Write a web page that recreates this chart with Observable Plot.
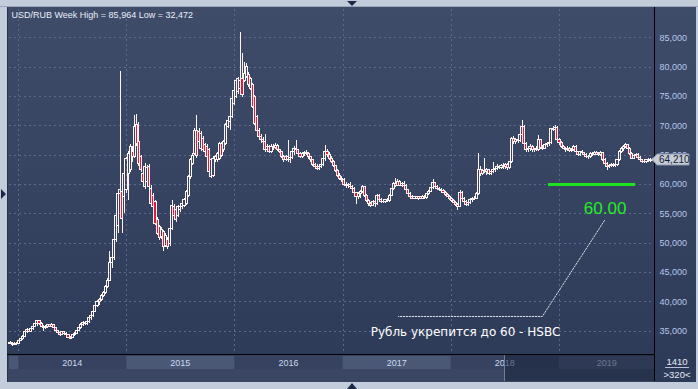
<!DOCTYPE html>
<html><head><meta charset="utf-8">
<script src="https://cdn.jsdelivr.net/npm/d3@7"></script>
<script src="https://cdn.jsdelivr.net/npm/@observablehq/plot@0.6"></script>
<style>
html,body{margin:0;padding:0;background:#c2ccdb;}
#chart{width:698px;height:389px;}
svg{display:block;}
</style></head><body><div id="chart"></div>
<script>
// ---- DATA (weekly USD/RUB candles: [open, high, low, close]) ----
const firstWeek = "2013-12-02";
const w2013 = [[33.0,33.2,32.8,32.9],[32.9,33.1,32.472,32.7],[32.7,33.0,32.6,32.9],[32.9,33.0,32.6,32.75],[32.75,33.5,32.7,33.3]];
const w2014 = [[33.3,33.8,33.2,33.6],[33.6,34.2,33.5,34.0],[34.0,35.2,33.9,34.8],[34.8,35.5,34.6,35.2],[35.2,35.4,34.8,34.9],
[34.9,35.5,34.8,35.3],[35.3,36.0,35.2,35.8],[35.8,36.5,35.6,36.3],[36.3,36.9,35.8,36.7],[36.7,36.8,36.0,36.2],
[36.2,36.4,35.6,35.8],[35.8,36.0,34.9,35.5],[35.5,36.0,35.3,35.8],[35.8,36.1,35.4,36.0],[36.0,36.2,35.6,35.8],
[35.8,36.3,35.7,36.1],[36.1,36.2,35.3,35.5],[35.5,35.6,34.9,35.0],[35.0,35.2,34.5,34.7],[34.7,34.9,34.1,34.3],
[34.3,35.0,34.2,34.8],[34.8,35.0,34.4,34.6],[34.6,34.8,34.2,34.3],[34.3,34.5,33.8,33.9],[33.9,34.1,33.6,33.75],
[33.8,34.5,33.7,34.3],[34.3,34.7,34.1,34.5],[34.5,35.2,34.4,35.0],[35.0,35.6,34.9,35.5],[35.5,36.3,35.3,36.0],
[36.0,36.7,35.8,36.4],[36.4,36.6,35.9,36.2],[36.2,36.7,36.0,36.5],[36.5,37.4,36.3,37.2],[37.2,37.8,36.9,37.6],
[37.6,38.5,37.4,38.3],[38.3,39.6,38.2,39.3],[39.3,40.2,39.0,39.9],[39.9,40.6,39.4,40.3],[40.3,41.2,40.1,41.0],
[41.0,41.8,40.8,41.5],[41.5,42.8,41.2,42.5],[42.5,44.0,42.3,43.6],[43.6,48.6,43.4,46.6],[46.6,48.5,45.6,47.4],
[47.4,51.0,47.1,50.5],[50.5,55.3,50.2,54.7],[53.0,58.6,51.7,58.4],[58.4,79.3,57.5,59.0],[58.7,59.2,51.7,54.2],
[57.8,62.0,55.0,61.8],[59.0,64.6,58.5,64.4]];
const w2015 = [[61.8,65.6,57.3,65.2],[62.4,66.8,62.0,66.4],[65.5,66.5,63.8,64.7],[64.7,71.8,64.5,69.8],[70.1,72.0,66.5,66.9],
[67.2,70.6,63.0,63.5],[64.7,65.0,62.0,62.4],[61.8,62.2,60.0,60.4],[59.5,63.5,59.2,63.0],[60.5,63.3,59.5,62.8],
[63.0,63.4,59.2,59.5],[59.3,59.8,56.5,56.7],[58.1,58.4,55.8,56.1],[57.0,57.3,53.0,53.3],[53.9,54.3,51.3,51.6],
[52.7,53.0,50.5,50.8],[51.0,52.6,50.6,52.2],[51.9,52.2,48.5,49.3],[49.6,51.6,49.3,51.3],[50.5,50.9,49.0,49.3],
[49.9,52.8,49.5,52.5],[52.5,57.3,52.2,56.4],[56.1,56.6,54.3,54.7],[55.6,55.9,53.6,53.9],[54.7,56.4,54.4,56.1],
[55.6,56.5,55.2,56.1],[56.1,57.0,55.7,56.7],[56.4,57.6,56.1,57.3],[56.7,59.0,56.4,58.7],[58.1,61.5,57.8,61.2],
[61.2,64.4,60.9,64.1],[63.5,65.3,63.2,64.9],[65.2,69.5,64.9,69.2],[69.2,71.8,64.5,64.9],[68.9,69.5,66.8,67.2],
[66.1,69.0,65.7,68.6],[67.8,68.2,65.5,65.8],[66.7,67.0,65.2,65.5],[66.4,66.8,64.4,64.7],[65.8,66.1,61.8,62.1],
[61.2,64.5,61.0,64.1],[61.5,64.7,61.2,64.4],[64.1,65.0,63.8,64.7],[64.1,65.5,63.8,65.2],[64.4,67.2,64.1,66.9],
[66.9,67.2,64.6,64.9],[65.8,67.5,65.5,67.2],[66.9,70.4,66.6,70.1],[69.8,71.2,69.5,70.9],[70.6,71.8,69.2,71.5],
[71.5,74.9,71.2,74.6],[73.8,76.3,73.5,76.0]];
const w2016 = [[74.9,78.0,74.6,77.7],[75.7,78.3,75.4,78.0],[76.3,85.964,75.4,77.7],[78.0,82.3,74.9,75.2],[77.7,80.8,77.4,78.9],
[78.3,80.6,78.0,80.0],[78.6,79.0,76.6,76.9],[76.3,78.3,76.0,78.0],[76.9,77.2,72.9,73.2],[74.9,75.2,70.0,70.3],
[71.5,71.8,68.9,69.2],[69.2,69.5,67.8,68.1],[68.1,68.6,67.0,67.6],[67.6,68.0,66.8,67.2],[67.2,68.6,65.5,65.8],
[65.8,66.8,65.4,66.4],[66.4,66.6,65.2,65.5],[65.5,66.8,65.3,66.4],[66.4,66.9,65.8,66.2],[66.2,67.0,65.9,66.6],
[66.6,66.8,65.6,65.9],[65.9,66.0,65.2,65.5],[65.5,65.7,64.5,64.7],[64.7,64.9,63.8,64.1],[64.1,65.0,63.9,64.7],
[64.7,67.5,63.8,64.1],[64.1,64.8,63.5,64.5],[64.5,65.8,64.2,65.5],[65.5,66.4,65.0,66.1],[66.1,67.5,65.5,65.8],
[65.8,66.0,64.9,65.2],[65.2,65.4,64.4,64.7],[64.7,65.5,64.5,65.2],[65.2,65.6,64.8,65.4],[65.4,65.8,64.9,65.2],
[65.2,65.4,64.3,64.6],[64.6,64.8,63.8,64.1],[64.1,64.3,63.0,63.3],[63.3,63.6,62.6,63.0],[63.0,63.4,62.4,62.7],
[62.7,63.3,62.4,63.0],[63.0,63.6,62.8,63.3],[63.3,64.6,63.1,64.3],[64.3,66.6,64.0,65.6],[65.6,66.0,64.6,65.0],
[65.0,65.4,64.1,64.4],[64.4,64.7,63.6,63.9],[63.9,64.1,62.9,63.2],[63.2,63.3,62.0,62.3],[62.3,62.5,61.2,61.4],
[61.4,61.8,60.7,61.0],[61.0,61.3,60.4,60.7]];
const w2017 = [[60.7,61.0,59.6,59.9],[59.9,60.4,59.3,59.7],[59.7,60.2,59.3,59.9],[59.9,60.3,59.4,59.6],[59.6,59.9,59.0,59.3],
[59.3,59.5,58.2,58.5],[58.5,58.7,56.6,57.8],[57.8,58.6,57.4,58.3],[58.3,59.0,57.6,58.7],[58.7,59.8,58.4,59.5],
[59.5,59.7,57.8,58.1],[58.1,58.3,56.9,57.2],[57.2,57.4,56.3,56.6],[56.6,57.0,56.1,56.4],[56.4,57.2,56.2,57.0],
[57.0,57.3,56.0,56.6],[56.6,58.3,56.4,58.1],[58.1,58.3,57.1,57.3],[57.3,57.6,56.8,57.1],[57.1,57.3,56.7,57.0],
[57.0,57.5,56.8,57.3],[57.3,57.6,56.9,57.2],[57.2,58.3,57.0,58.1],[58.1,59.4,57.9,59.2],[59.2,60.3,59.0,60.1],
[60.1,61.0,59.5,59.8],[59.8,60.9,59.6,60.4],[60.4,60.6,59.6,59.8],[59.8,60.3,59.5,60.0],[60.0,60.5,59.6,59.8],
[59.8,60.0,58.8,59.0],[59.0,59.2,58.2,58.4],[58.4,58.6,57.6,57.8],[57.8,58.1,57.4,57.6],[57.6,58.0,57.4,57.8],
[57.8,58.0,57.4,57.6],[57.6,58.0,57.3,57.8],[57.8,58.0,57.4,57.6],[57.6,58.1,57.4,57.9],[57.9,58.2,57.5,57.7],
[57.7,58.5,57.5,58.3],[58.3,59.0,58.1,58.8],[58.8,59.6,58.6,59.4],[59.4,60.8,59.2,60.2],[60.2,60.4,59.3,59.6],
[59.6,59.9,59.0,59.3],[59.3,59.5,58.8,59.0],[59.0,59.3,58.6,58.9],[58.9,59.1,58.4,58.6],[58.6,58.8,58.0,58.2],
[58.2,58.4,57.7,57.9],[57.9,58.1,57.3,57.5]];
const w2018 = [[57.5,57.7,56.9,57.2],[57.2,57.5,56.7,56.9],[56.9,57.1,56.2,56.5],[56.5,56.8,55.6,56.2],[56.2,59.0,56.0,58.6],
[58.6,58.8,57.4,57.6],[57.6,57.8,56.8,57.0],[57.0,57.3,56.2,56.5],[56.5,57.0,56.3,56.8],[56.8,57.5,56.6,57.3],
[57.3,57.7,57.0,57.5],[57.5,57.9,57.2,57.6],[57.6,58.6,57.4,58.4],[58.4,65.2,58.2,62.4],[62.4,63.0,61.4,61.8],
[61.8,62.6,61.5,62.3],[62.3,64.4,61.8,62.1],[62.1,62.7,61.6,62.4],[62.4,62.6,61.5,61.8],[61.8,62.4,61.6,62.1],
[62.1,63.8,61.9,62.4],[62.4,62.9,62.1,62.6],[62.6,63.4,62.3,63.0],[63.0,63.3,62.5,62.8],[62.8,63.4,62.6,63.2],
[63.2,63.6,62.6,62.9],[62.9,63.5,62.6,63.3],[63.3,63.5,62.4,62.8],[62.8,64.0,62.6,63.8],[63.8,68.0,63.6,67.8],
[67.8,68.1,66.8,67.2],[67.2,67.8,66.9,67.5],[67.5,68.0,67.0,67.4],[67.4,69.2,67.1,68.4],[68.4,70.9,68.1,69.8],
[69.8,70.1,66.6,66.9],[66.9,67.2,65.5,65.8],[65.8,66.4,65.4,66.1],[66.1,66.8,65.7,66.4],[66.4,66.6,65.5,65.8],
[65.8,66.2,65.4,66.0],[66.0,66.5,65.6,65.9],[65.9,68.3,65.7,67.5],[67.5,67.7,66.0,66.3],[66.3,66.6,65.8,66.1],
[66.1,66.9,65.9,66.7],[66.7,67.2,66.3,66.9],[66.9,67.3,66.5,67.1],[67.1,69.6,66.9,69.5],[69.5,69.9,69.0,69.3],
[69.3,70.1,69.0,69.6],[69.6,69.8,67.3,67.5],[67.5,67.8,66.7,67.0]];
const w2019 = [[67.0,67.3,66.2,66.4],[66.4,66.7,65.9,66.1],[66.1,66.3,65.5,65.8],[65.8,66.4,65.6,66.1],[66.1,66.3,65.5,65.7],
[65.7,66.1,65.5,65.9],[65.9,66.7,65.7,66.4],[66.4,66.6,65.3,65.5],[65.5,65.7,64.8,65.0],[65.0,65.7,64.8,65.5],
[65.5,65.8,65.1,65.3],[65.3,65.5,64.8,65.0],[65.0,65.2,64.5,64.7],[64.7,65.0,64.3,64.6],[64.6,65.4,64.4,65.2],
[65.2,65.5,64.8,65.0],[65.0,65.6,64.9,65.4],[65.4,65.7,64.9,65.1],[65.1,65.4,64.7,65.0],[65.0,65.6,64.8,65.3],
[65.3,65.5,64.0,64.2],[64.2,64.4,63.3,63.5],[63.5,63.8,62.4,63.0],[63.0,63.4,62.8,63.1],[63.1,63.5,62.9,63.3],
[63.3,63.6,62.9,63.1],[63.1,63.5,62.9,63.3],[63.3,64.3,63.1,64.1],[64.1,65.8,63.9,65.5],[65.5,66.3,65.2,66.0],
[66.0,66.7,65.7,66.4],[66.4,67.0,66.1,66.7],[66.7,66.9,65.9,66.1],[66.1,66.3,65.0,65.2],[65.2,65.5,64.2,64.4],
[64.4,65.0,64.2,64.8],[64.8,65.2,64.6,65.0],[65.0,65.2,64.3,64.5],[64.5,64.7,63.9,64.1],[64.1,64.3,63.6,63.9],
[63.9,64.1,63.6,63.8],[63.8,64.3,63.6,64.1],[64.1,64.4,63.8,64.0],[64.0,64.4,63.8,64.2],[64.2,64.4,64.0,64.21]];

const yTicks = [35, 40, 45, 50, 55, 60, 65, 70, 75, 80, 85];
const years = [2013, 2014, 2015, 2016, 2017, 2018, 2019];
const shadedYears = [2013, 2015, 2017, 2019];
const titleParts = {symbol: "USD/RUB", period: "Week", high: 85.964, low: 32.472};
const lastPrice = 64.21;
const counters = ["1410", ">320<"];
const thumbStart = "2018-07-05";
const target = [{value: 60, from: "2018-11-26", to: "2019-09-16"}];
const targetLabel = [{text: "60.00", at: "2019-06-05", value: 55.9}];
const calloutPath = [["2019-06-03", 53.86], ["2018-11-05", 37.51], ["2017-07-07", 37.51]];
const calloutText = [{text: "Рубль укрепится до 60 - HSBC", at: "2017-04-04", value: 34.78}];

// ---- build ----
const fmt = v => d3.format(",.3f")(v).replace(".", ",");
const candles = [...w2013, ...w2014, ...w2015, ...w2016, ...w2017, ...w2018, ...w2019].map((d, i) => {
  const [o, h, l, c] = d;
  const date = d3.utcDay.offset(new Date(firstWeek), 7 * i + 2);
  return {date, o, h, l, c, top: Math.max(o, c), bot: Math.min(o, c), down: c < o,
    x1: d3.utcHour.offset(date, -84), x2: d3.utcHour.offset(date, 84)};
});
const yearStart = y => new Date(Date.UTC(y, 0, 1));
const wickColor = "#fff4ef";
const crisp = {shapeRendering: "crispEdges"};

const plot = Plot.plot({
  width: 698, height: 389,
  marginLeft: 9, marginRight: 43, marginTop: 9, marginBottom: 35,
  style: {background: "transparent", fontFamily: "'Liberation Sans', Arial, sans-serif", fontSize: "9px"},
  x: {type: "utc", domain: [new Date("2013-11-30T14:24:00Z"), new Date("2019-11-22T10:00:00Z")], axis: null},
  y: {domain: [31.03, 89.82], axis: null},
  marks: [
    Plot.gridY(yTicks, {stroke: "#5a6a8d", strokeOpacity: 1, strokeDasharray: "2,3", ...crisp}),
    Plot.gridX(years.slice(1).map(yearStart), {stroke: "#5a6a8d", strokeOpacity: 1, strokeDasharray: "2,3", ...crisp}),
    Plot.axisY(yTicks, {anchor: "right", tickSize: 0, tickPadding: 4, tickFormat: fmt, fill: "#b5c8ea", fontSize: 9}),
    Plot.ruleX(candles, {x: "date", y1: "top", y2: "h", stroke: wickColor, ...crisp}),
    Plot.ruleX(candles, {x: "date", y1: "l", y2: "bot", stroke: wickColor, ...crisp}),
    Plot.rect(candles.filter(d => !d.down), {x1: "x1", x2: "x2", y1: "bot", y2: "top", fill: "none", stroke: wickColor, ...crisp}),
    Plot.rect(candles.filter(d => d.down), {x1: "x1", x2: "x2", y1: "bot", y2: "top", fill: "#e3173f", stroke: wickColor, ...crisp}),
    Plot.ruleY(target, {y: "value", x1: d => new Date(d.from), x2: d => new Date(d.to), stroke: "#1fe21f", strokeWidth: 3}),
    Plot.text(targetLabel, {x: d => new Date(d.at), y: "value", text: "text", fill: "#24ec24", fontSize: 17, textAnchor: "middle"}),
    Plot.line(calloutPath, {x: d => new Date(d[0]), y: d => d[1], stroke: "#d9dee8", strokeDasharray: "1.5,1.5", strokeWidth: 1}),
    Plot.text(calloutText, {x: d => new Date(d.at), y: "value", text: "text", fill: "#ffffff", fontSize: 12,
      fontFamily: "'DejaVu Sans', Verdana, sans-serif", textAnchor: "start"}),
    Plot.text([`${titleParts.symbol} ${titleParts.period} High = ${fmt(titleParts.high)} Low = ${fmt(titleParts.low)}`],
      {frameAnchor: "top-left", dx: 2, dy: 2, fill: "#e9eef7", fontSize: 9})
  ]
});

// ---- chrome around the plot ----
const svg = d3.select(plot);
const X = plot.scale("x"), Y = plot.scale("y");
const xa = d => X.apply(d), ya = v => Y.apply(v);
const pLeft = X.range[0], pRight = X.range[1], pTop = Y.range[1], pBottom = Y.range[0];

const bg = svg.insert("g", ":first-child");
const defs = svg.insert("defs", ":first-child");
const grad = defs.append("linearGradient").attr("id", "panelGrad").attr("x1", 0).attr("y1", 0).attr("x2", 0).attr("y2", 1);
grad.append("stop").attr("offset", "0%").attr("stop-color", "#3e4c6a");
grad.append("stop").attr("offset", "100%").attr("stop-color", "#2d3a57");

bg.append("rect").attr("width", 698).attr("height", 389).attr("fill", "#c2ccdb");
bg.append("rect").attr("x", pLeft - 2).attr("y", pTop - 2).attr("width", 698 - pLeft).attr("height", 382 - pTop + 2)
  .attr("fill", "url(#panelGrad)");
bg.append("line").attr("x1", 0).attr("x2", 698).attr("y1", pTop - 2.5).attr("y2", pTop - 2.5).attr("stroke", "#9aa6bb");
bg.append("line").attr("x1", pLeft - 1.5).attr("x2", pLeft - 1.5).attr("y1", pTop - 2).attr("y2", 382).attr("stroke", "#27324a");

const fg = svg.append("g").attr("text-anchor", "start");
// time strip
fg.append("rect").attr("x", pLeft - 1).attr("y", pBottom + 1).attr("width", pRight - pLeft + 1).attr("height", 382 - pBottom - 1).attr("fill", "#3a4664");
fg.append("rect").attr("x", pLeft - 1).attr("y", pBottom + 1).attr("width", pRight - pLeft + 1).attr("height", 14).attr("fill", "#36425f");
for (const yr of years) {
  const a = Math.max(pLeft, xa(yearStart(yr))), b = Math.min(pRight, xa(yearStart(yr + 1)));
  if (shadedYears.includes(yr)) fg.append("rect").attr("x", a).attr("y", pBottom + 2).attr("width", b - a).attr("height", 13).attr("fill", "#4a5876");
  if (yr >= 2014) fg.append("text").attr("x", (a + b) / 2).attr("y", pBottom + 12).attr("text-anchor", "middle")
    .attr("fill", "#cbd8ef").attr("font-size", 9).text(yr);
}
// scroll thumb
const thumbX = Math.round(xa(new Date(thumbStart)));
fg.append("rect").attr("x", thumbX).attr("y", pBottom + 1).attr("width", pRight - thumbX).attr("height", 26)
  .attr("fill", "#18233b").attr("fill-opacity", 0.55);
fg.append("line").attr("x1", thumbX - 0.5).attr("x2", thumbX - 0.5).attr("y1", pBottom + 1).attr("y2", 381).attr("stroke", "#707d98");
// frame lines
fg.append("line").attr("x1", pLeft - 2).attr("x2", pRight).attr("y1", pBottom + 0.5).attr("y2", pBottom + 0.5).attr("stroke", "#000");
fg.append("line").attr("x1", pRight - 0.5).attr("x2", pRight - 0.5).attr("y1", pTop - 2).attr("y2", 381).attr("stroke", "#000");
// counters
fg.append("text").attr("x", 677).attr("y", pBottom + 11).attr("text-anchor", "middle").attr("fill", "#e4eaf5").attr("font-size", 9.5).text(counters[0]);
fg.append("line").attr("x1", 665).attr("x2", 689).attr("y1", pBottom + 13.5).attr("y2", pBottom + 13.5).attr("stroke", "#b8c2d6");
fg.append("text").attr("x", 677).attr("y", pBottom + 24).attr("text-anchor", "middle").attr("fill", "#e4eaf5").attr("font-size", 9.5).text(counters[1]);
// last price flag
const py = Math.round(ya(lastPrice)) + 0.5;
fg.append("path").attr("d", `M${pRight - 3},${py} L${pRight + 2},${py - 5.5} L${pRight + 34},${py - 5.5} L${pRight + 34},${py + 5.5} L${pRight + 2},${py + 5.5} Z`)
  .attr("fill", "#c6cdd8").attr("stroke", "#8e98aa");
fg.append("text").attr("x", pRight + 4).attr("y", py + 3.5).attr("text-anchor", "start").attr("fill", "#18202e").attr("font-size", 10).text(fmt(lastPrice));
// scroll arrows
fg.append("path").attr("d", "M347,1 L357,1 L352,6 Z").attr("fill", "#1b2946");
fg.append("path").attr("d", "M352,383 L347,389 L357,389 Z").attr("fill", "#1b2946");
fg.append("path").attr("d", "M1,189 L1,199 L6,194 Z").attr("fill", "#1b2946");

document.getElementById("chart").appendChild(plot);
</script></body></html>
